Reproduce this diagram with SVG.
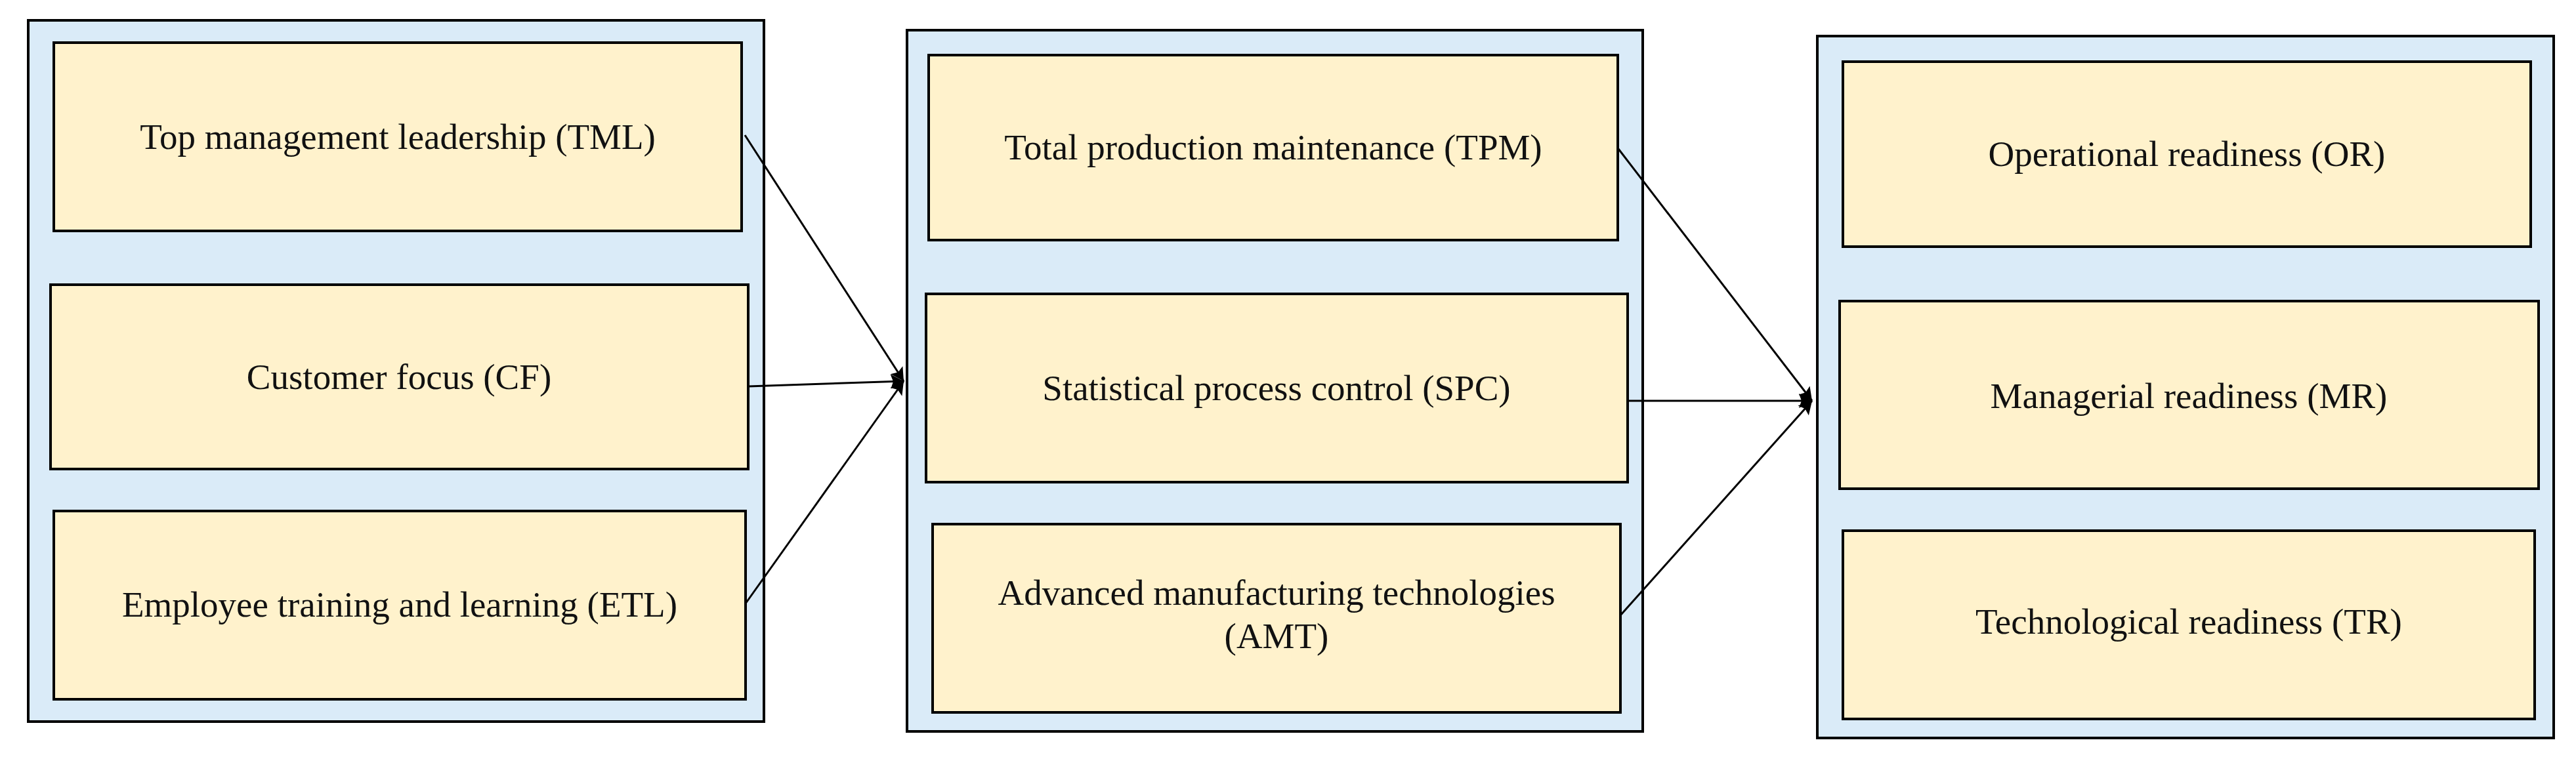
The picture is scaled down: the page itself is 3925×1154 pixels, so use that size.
<svg xmlns="http://www.w3.org/2000/svg" width="3925" height="1154" viewBox="0 0 3925 1154">
<style>
.grp{fill:#DAEBF8;stroke:#000;stroke-width:4}
.box{fill:#FFF2CC;stroke:#000;stroke-width:4}
.t{font-family:'Liberation Serif','DejaVu Serif',serif;font-size:55px;fill:#111;text-anchor:middle}
.c{stroke:#000;stroke-width:3;fill:none;marker-end:url(#ah)}
</style>
<defs>
<marker id="ah" markerUnits="userSpaceOnUse" markerWidth="24" markerHeight="30" refX="20" refY="15" orient="auto">
<path d="M0,4 L20,15 L0,26 L4,15 Z" fill="#000"/>
</marker>
</defs>
<rect width="3925" height="1154" fill="#fff"/>
<g id="group1"><rect class="grp" x="43" y="31" width="1121" height="1069"/></g>
<g id="group2"><rect class="grp" x="1382" y="46" width="1121" height="1069"/></g>
<g id="group3"><rect class="grp" x="2769" y="55" width="1122" height="1070"/></g>
<g id="TML"><rect class="box" x="82" y="65" width="1048" height="287"/><text class="t" x="606" y="227">Top management leadership (TML)</text></g>
<g id="CF"><rect class="box" x="77" y="434" width="1063" height="281"/><text class="t" x="608" y="593">Customer focus (CF)</text></g>
<g id="ETL"><rect class="box" x="82" y="779" width="1054" height="287"/><text class="t" x="609" y="940">Employee training and learning (ETL)</text></g>
<g id="TPM"><rect class="box" x="1415" y="84" width="1050" height="282"/><text class="t" x="1940" y="243">Total production maintenance (TPM)</text></g>
<g id="SPC"><rect class="box" x="1411" y="448" width="1069" height="287"/><text class="t" x="1945" y="610">Statistical process control (SPC)</text></g>
<g id="AMT"><rect class="box" x="1421" y="799" width="1048" height="287"/><text class="t" x="1945" y="922">Advanced manufacturing technologies</text><text class="t" x="1945" y="988">(AMT)</text></g>
<g id="OR"><rect class="box" x="2808" y="94" width="1048" height="282"/><text class="t" x="3332" y="253">Operational readiness (OR)</text></g>
<g id="MR"><rect class="box" x="2803" y="459" width="1065" height="286"/><text class="t" x="3335" y="622">Managerial readiness (MR)</text></g>
<g id="TR"><rect class="box" x="2808" y="809" width="1054" height="287"/><text class="t" x="3335" y="966">Technological readiness (TR)</text></g>
<g id="connectors">
<line class="c" x1="1135" y1="206" x2="1377" y2="581"/>
<line class="c" x1="1140" y1="589" x2="1377" y2="581"/>
<line class="c" x1="1136" y1="920" x2="1377" y2="581"/>
<line class="c" x1="2466" y1="227" x2="2761" y2="611"/>
<line class="c" x1="2480" y1="611" x2="2761" y2="611"/>
<line class="c" x1="2469" y1="938" x2="2761" y2="611"/>
</g>
</svg>
